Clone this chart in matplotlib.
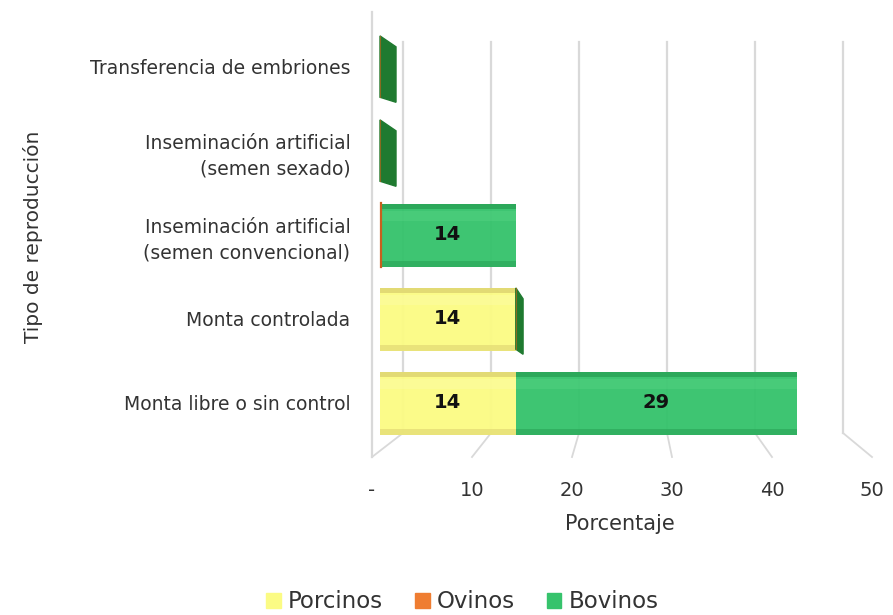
import matplotlib.pyplot as plt
from matplotlib.patches import Patch, Polygon

plt.rcParams['font.family'] = ['DejaVu Sans']

# Porcentaje de unidades por tipo de reproduccion y especie
categorias = ['Monta libre o sin control', 'Monta controlada',
              'Inseminación artificial\n(semen convencional)',
              'Inseminación artificial\n(semen sexado)',
              'Transferencia de embriones']
porcinos = [14, 14, 0, 0, 0]
ovinos = [0, 0, 0, 0, 0]
bovinos = [29, 0, 14, 0, 0]
ticks = [0, 10, 20, 30, 40, 50]
tick_labels = ['-', '10', '20', '30', '40', '50']

series = [
    ('Porcinos', porcinos, '#fbfb84', '#e2da74', '#fdfdb0'),
    ('Ovinos', ovinos, '#ef7d31', '#c8601e', '#f59a5a'),
    ('Bovinos', bovinos, '#36c36c', '#2ca85a', '#5cd788'),
]

W, H = 893, 615
fig = plt.figure(figsize=(W / 100, H / 100), dpi=100)
ax = fig.add_axes([360 / W, (H - 470) / H, 520 / W, 465 / H])

# pixel helpers for the pseudo-3D walls
def fx(px):
    return (px - 380) / 9.7

def fy(py):
    return (403 - py) / 84

ax.set_xlim(fx(360), fx(880))
ax.set_ylim(fy(470), fy(5))
for s in ax.spines.values():
    s.set_visible(False)

grid = '#d9d9d9'
# back wall and floor grid
for v in ticks:
    xb = fx(403 + 8.8 * v)
    xf = fx(372 + 10 * v)
    ax.plot([xb, xb], [fy(433), fy(42)], color=grid, lw=1.6, zorder=1)
    ax.plot([xb, xf], [fy(433), fy(457)], color=grid, lw=1.3, zorder=1)
# side wall front edge
ax.plot([fx(372), fx(372)], [fy(457), fy(12)], color=grid, lw=1.6, zorder=1)

h = 0.75
y = list(range(len(categorias)))
left = [0.0] * len(categorias)
for name, vals, body, top, hi in series:
    ax.barh(y, vals, height=h, left=left, color=body, alpha=0.96,
            edgecolor='none', zorder=3)
    # top face, soft highlight and lower shading
    ax.barh([yy + h / 2 - 0.035 for yy in y], vals, height=0.07, left=left,
            color=top, edgecolor='none', zorder=4)
    ax.barh([yy + h / 2 - 0.15 for yy in y], vals, height=0.12, left=left,
            color=hi, alpha=0.35, edgecolor='none', zorder=4)
    ax.barh([yy - h / 2 + 0.03 for yy in y], vals, height=0.06, left=left,
            color=top, alpha=0.7, edgecolor='none', zorder=4)
    left = [l + v for l, v in zip(left, vals)]

# end faces of zero-length segments
for i, (p, o, b) in enumerate(zip(porcinos, ovinos, bovinos)):
    x0 = p + o
    if b == 0:
        dx = 1.65 if x0 == 0 else 0.75
        pts = [(x0, i + 0.37), (x0, i - 0.36), (x0 + dx, i - 0.42), (x0 + dx, i + 0.24)]
        ax.add_patch(Polygon(pts, closed=True, color='#1f7a30', zorder=5))
        ax.plot([x0, x0], [i - 0.36, i + 0.37], color='#8a6a20', lw=0.8, zorder=5)
    elif p == 0 and o == 0:
        ax.plot([0.1, 0.1], [i - h / 2, i + h / 2], color='#c8601e', lw=1.6, zorder=5)

# value labels
left = [0.0] * len(categorias)
for name, vals, *_ in series:
    for i, v in enumerate(vals):
        if v > 0:
            ax.text(left[i] + v / 2, i, f'{v}', ha='center', va='center',
                    fontsize=14, fontweight='bold', color='#111111', zorder=6)
    left = [l + v for l, v in zip(left, vals)]

ax.set_yticks(y)
ax.set_yticklabels(categorias, fontsize=13.5, color='#333333', linespacing=1.45)
ax.set_xticks([fx(372 + 10 * v) for v in ticks])
ax.set_xticklabels(tick_labels, fontsize=14, color='#333333')
ax.tick_params(axis='y', length=0, pad=7)
ax.tick_params(axis='x', length=0, pad=8)
ax.set_xlabel('Porcentaje', fontsize=15, color='#333333', labelpad=10)

fig.text(33 / W, 1 - 237 / H, 'Tipo de reproducción', rotation=90,
         ha='center', va='center', fontsize=14.5, color='#333333')

handles = [Patch(color=c, label=n) for n, _, c, *_ in series]
fig.legend(handles=handles, loc='center', bbox_to_anchor=(462 / W, 1 - 602 / H),
           ncol=3, frameon=False, fontsize=16.5, handlelength=0.65, handleheight=0.65,
           handletextpad=0.3, columnspacing=1.4, labelcolor='#333333')

fig.savefig('out.png', dpi=100)
